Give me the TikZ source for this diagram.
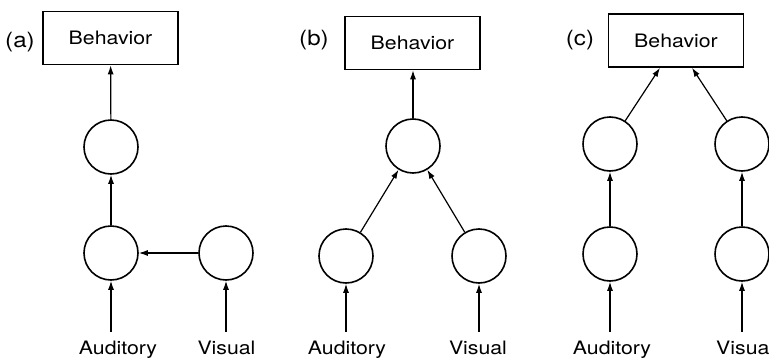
\documentclass[tikz,border=0pt]{standalone}
\usepackage{fontspec}
\setmainfont{TeX Gyre Heros}[FakeStretch=1.15]
\usetikzlibrary{arrows.meta}

\tikzset{
  unit/.style={draw, circle, minimum size=54pt, inner sep=0pt, line width=1.6pt},
  behbox/.style={draw, rectangle, minimum width=135pt, minimum height=53pt, line width=1.6pt},
  inlabel/.style={anchor=base, inner sep=0pt, text height=14pt, text depth=4pt},
  tag/.style={inner sep=0pt, font=\fontsize{21}{24}\selectfont},
  link/.style={-{Latex[length=9pt,width=6pt]}, line width=1.2pt},
}

\begin{document}
\begin{tikzpicture}[x=1pt, y=-1pt, font=\fontsize{18.5}{22}\selectfont]
  \useasboundingbox (0,0) rectangle (769,359);

  % (a)
  \node[tag] (taga) at (20,42) {(a)};
  \node[behbox] (beha) at (110.5,38) {Behavior};
  \node[unit] (a2) at (111,147) {};
  \node[unit] (a1) at (111,253) {};
  \node[unit] (av) at (226,253) {};
  \node[inlabel] (auda) at (118,354) {Auditory};
  \node[inlabel] (visa) at (226.5,354) {Visual};
  \draw[link] (a2) -- (beha);
  \draw[link] (a1) -- (a2);
  \draw[link] (av) -- (a1);
  \draw[link] ([yshift=8pt]auda.north -| a1) -- (a1);
  \draw[link] ([yshift=8pt]visa.north -| av) -- (av);

  % (b)
  \node[tag] (tagb) at (314,40) {(b)};
  \node[behbox] (behb) at (412.5,43) {Behavior};
  \node[unit] (b2) at (413,146) {};
  \node[unit] (b1) at (346,256) {};
  \node[unit] (bv) at (479,256) {};
  \node[inlabel] (audb) at (347,354) {Auditory};
  \node[inlabel] (visb) at (478,354) {Visual};
  \draw[link] (b2) -- (behb.south -| b2);
  \draw[link] (b1) -- (b2);
  \draw[link] (bv) -- (b2);
  \draw[link] ([yshift=8pt]audb.north -| b1) -- (b1);
  \draw[link] ([yshift=8pt]visb.north -| bv) -- (bv);

  % (c)
  \node[tag] (tagc) at (580,40) {(c)};
  \node[behbox] (behc) at (676,40.5) {Behavior};
  \foreach \n/\x in {l/610,r/742} {
    \node[unit] (c2\n) at (\x,144) {};
    \node[unit] (c1\n) at (\x,254) {};
    \draw[link] (c1\n) -- (c2\n);
  }
  \node[inlabel] (audc) at (612,354) {Auditory};
  \node[inlabel, anchor=base west] (visc) at (716,354) {Visua};
  \draw[link] (c2l) -- (behc.south -| 660,0);
  \draw[link] (c2r) -- (behc.south -| 692,0);
  \draw[link] ([yshift=8pt]audc.north -| c1l) -- (c1l);
  \draw[link] ([yshift=8pt]visc.north -| c1r) -- (c1r);
\end{tikzpicture}
\end{document}
